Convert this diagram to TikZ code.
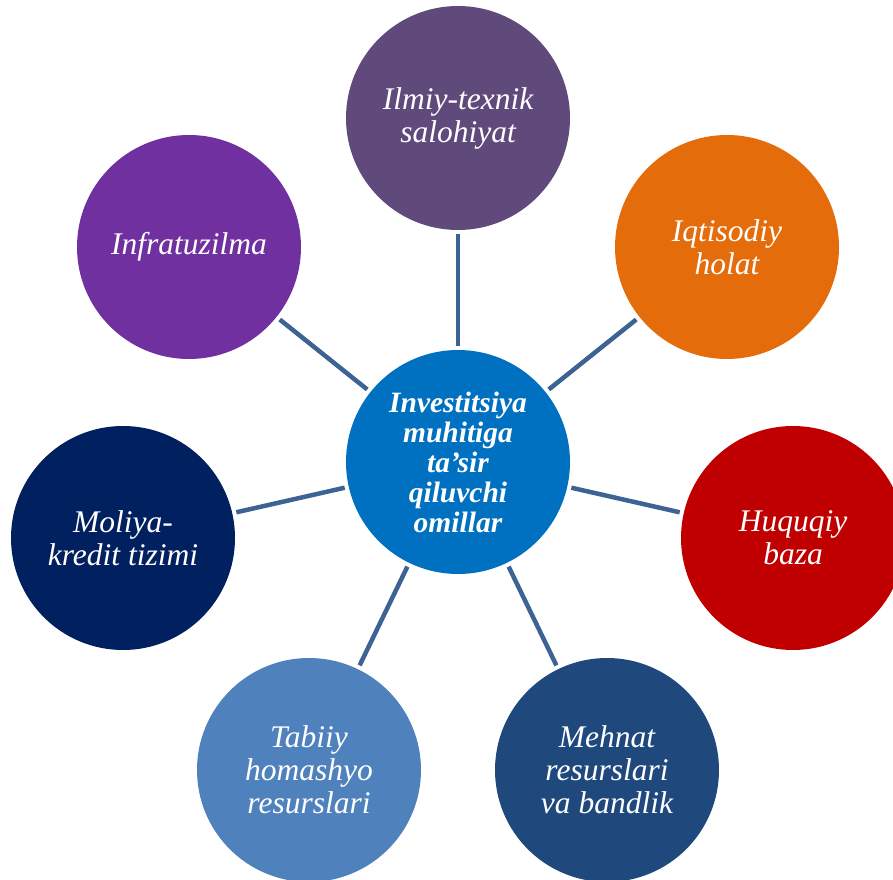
\documentclass[tikz,border=0pt]{standalone}
\usepackage{fontspec}
\setmainfont{Liberation Serif}
\usepackage{xcolor}
\definecolor{CenterBlue}{RGB}{0,112,192}
\definecolor{GreyPurple}{RGB}{96,74,123}
\definecolor{Orange}{RGB}{228,108,10}
\definecolor{DarkRed}{RGB}{192,0,0}
\definecolor{NavyBlue}{RGB}{31,73,125}
\definecolor{SkyBlue}{RGB}{79,129,189}
\definecolor{DeepNavy}{RGB}{0,32,96}
\definecolor{Violet}{RGB}{112,48,160}
\definecolor{SpokeBlue}{RGB}{60,99,147}

\begin{document}
\begin{tikzpicture}[x=1pt, y=1pt,
    factor/.style={circle, minimum size=224pt, inner sep=0pt, text=white, align=center,
        font=\fontsize{31.5}{33}\selectfont\itshape},
    spoke/.style={draw=SpokeBlue, line width=4.5pt, shorten <=4pt, shorten >=4pt}]
            % \draw[help lines] (0, 0) grid[step=50] (893, 879);
            \useasboundingbox (0, 0) rectangle (893, 879);
            \node[factor, fill=CenterBlue, font=\fontsize{29.5}{30}\selectfont\bfseries\itshape] (omil) at (458, 417)
                {Investitsiya\\muhitiga\\ta’sir\\qiluvchi\\omillar};
            \node[factor, fill=GreyPurple] (ilmiy) at (458, 761) {Ilmiy-texnik\\salohiyat};
            \node[factor, fill=Orange] (iqtisod) at (727, 632) {Iqtisodiy\\holat};
            \node[factor, fill=DarkRed] (huquq) at (793, 341) {Huquqiy\\baza};
            \node[factor, fill=NavyBlue] (mehnat) at (607, 109) {Mehnat\\resurslari\\va bandlik};
            \node[factor, fill=SkyBlue] (tabiiy) at (309, 109) {Tabiiy\\homashyo\\resurslari};
            \node[factor, fill=DeepNavy] (moliya) at (123, 341) {Moliya-\\kredit tizimi};
            \node[factor, fill=Violet] (infra) at (189, 632) {Infratuzilma};
            \foreach \f in {ilmiy, iqtisod, huquq, mehnat, tabiiy, moliya, infra}
                \draw[spoke] (omil) -- (\f);
        \end{tikzpicture}
\end{document}
